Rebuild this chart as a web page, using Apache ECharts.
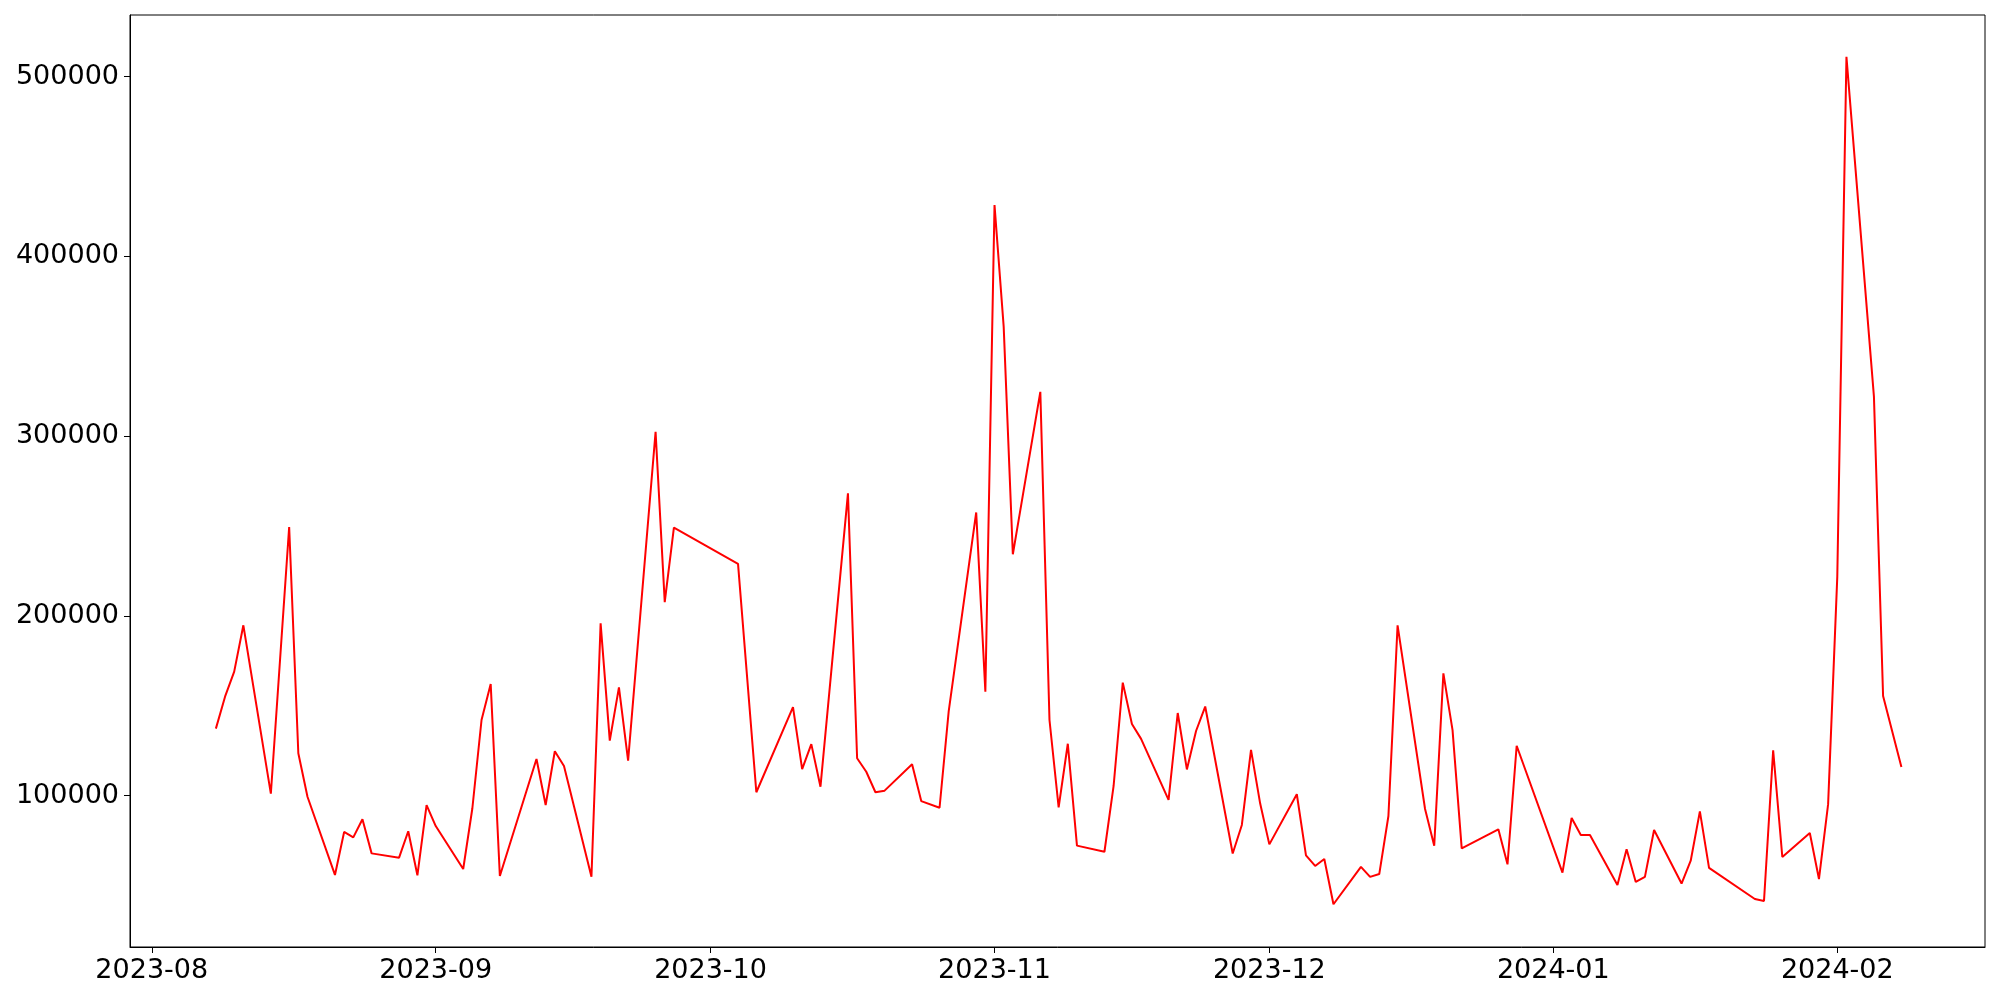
<!DOCTYPE html>
<html>
<head>
<meta charset="utf-8">
<script src="https://cdn.jsdelivr.net/npm/echarts@6/dist/echarts.min.js"></script>
<style>
html,body{margin:0;padding:0;background:#fff;}
#chart{width:2000px;height:1000px;}
</style>
</head>
<body>
<div id="chart"></div>
<script>
const dates = [
 '2023-08-08','2023-08-09','2023-08-10','2023-08-11','2023-08-14','2023-08-16','2023-08-17','2023-08-18',
 '2023-08-21','2023-08-22','2023-08-23','2023-08-24','2023-08-25','2023-08-28','2023-08-29','2023-08-30',
 '2023-08-31','2023-09-01','2023-09-04','2023-09-05','2023-09-06','2023-09-07','2023-09-08','2023-09-12',
 '2023-09-13','2023-09-14','2023-09-15','2023-09-18','2023-09-19','2023-09-20','2023-09-21','2023-09-22',
 '2023-09-25','2023-09-26','2023-09-27','2023-10-04','2023-10-06','2023-10-10','2023-10-11','2023-10-12',
 '2023-10-13','2023-10-16','2023-10-17','2023-10-18','2023-10-19','2023-10-20','2023-10-23','2023-10-24',
 '2023-10-26','2023-10-27','2023-10-30','2023-10-31','2023-11-01','2023-11-02','2023-11-03','2023-11-06',
 '2023-11-07','2023-11-08','2023-11-09','2023-11-10','2023-11-13','2023-11-14','2023-11-15','2023-11-16',
 '2023-11-17','2023-11-20','2023-11-21','2023-11-22','2023-11-23','2023-11-24','2023-11-27','2023-11-28',
 '2023-11-29','2023-11-30','2023-12-01','2023-12-04','2023-12-05','2023-12-06','2023-12-07','2023-12-08',
 '2023-12-11','2023-12-12','2023-12-13','2023-12-14','2023-12-15','2023-12-18','2023-12-19','2023-12-20',
 '2023-12-21','2023-12-22','2023-12-26','2023-12-27','2023-12-28','2024-01-02','2024-01-03','2024-01-04',
 '2024-01-05','2024-01-08','2024-01-09','2024-01-10','2024-01-11','2024-01-12','2024-01-15','2024-01-16',
 '2024-01-17','2024-01-18','2024-01-23','2024-01-24','2024-01-25','2024-01-26','2024-01-29','2024-01-30',
 '2024-01-31','2024-02-01','2024-02-02','2024-02-05','2024-02-06','2024-02-08'
];
const values = [
 137200,155000,168900,194700,101000,249400,123500,99300,
 55800,79700,76700,86800,67800,65400,80100,55600,
 94700,83000,59100,92900,142000,162000,55200,120300,
 94700,124600,116400,54800,195800,130500,160200,119400,
 302400,207600,249000,228900,101800,149200,114700,128600,
 104900,268100,120700,113200,101800,102700,117400,96900,
 93200,147000,257500,157700,428500,360900,234200,324600,
 142000,93400,128800,72100,68700,105300,162800,139800,
 131500,97600,145900,114500,135900,149500,67700,83600,
 125400,95500,72800,100700,66700,60800,64700,39500,
 60300,54700,56300,88600,194700,92500,72100,168000,
 136400,70600,81200,61700,127700,57100,87500,78000,
 78000,50200,70100,51900,54700,80800,51000,63700,
 91200,59700,42400,41300,125100,65800,79100,53500,
 95200,221800,511000,322100,155400,115900
];
const monthTicks = ['2023-08-01','2023-09-01','2023-10-01','2023-11-01','2023-12-01','2024-01-01','2024-02-01'];
const yTicks = [100000,200000,300000,400000,500000];

function toTs(s){ const p=s.split('-').map(Number); return new Date(p[0],p[1]-1,p[2]).getTime(); }
const seriesData = dates.map((d,i)=>[toTs(d), values[i]]);
const xTickVals = monthTicks.map(toTs);
const xMin = new Date(2023,6,29,15,0).getTime();
const xMax = new Date(2024,1,17,3,0).getTime();

const chart = echarts.init(document.getElementById('chart'), null, {renderer:'canvas'});
const font = 'DejaVu Sans';
chart.setOption({
  animation:false,
  backgroundColor:'#ffffff',
  grid:{left:130,right:15,top:15,bottom:53,show:true,borderColor:'#000',borderWidth:1,backgroundColor:'transparent'},
  xAxis:{
    type:'value', min:xMin, max:xMax, scale:true,
    axisLine:{show:true,onZero:false,lineStyle:{color:'#000',width:1}},
    axisTick:{show:true,length:6,lineStyle:{color:'#000',width:1},customValues:xTickVals},
    axisLabel:{show:true,customValues:xTickVals,color:'#000',fontFamily:font,fontSize:27,margin:10,
      formatter:function(v){const d=new Date(v);return d.getFullYear()+'-'+String(d.getMonth()+1).padStart(2,'0');}},
    splitLine:{show:false}, minorTick:{show:false}
  },
  yAxis:{
    type:'value', min:15700, max:534300,
    axisLine:{show:true,lineStyle:{color:'#000',width:1}},
    axisTick:{show:true,length:6,lineStyle:{color:'#000',width:1},customValues:yTicks},
    axisLabel:{show:true,customValues:yTicks,color:'#000',fontFamily:font,fontSize:27,margin:11,
      formatter:function(v){return String(v);}},
    splitLine:{show:false}
  },
  series:[{
    type:'line', data:seriesData, showSymbol:false, symbol:'none',
    lineStyle:{color:'#ff0000',width:2}, itemStyle:{color:'#ff0000'}
  }]
});
</script>
</body>
</html>
